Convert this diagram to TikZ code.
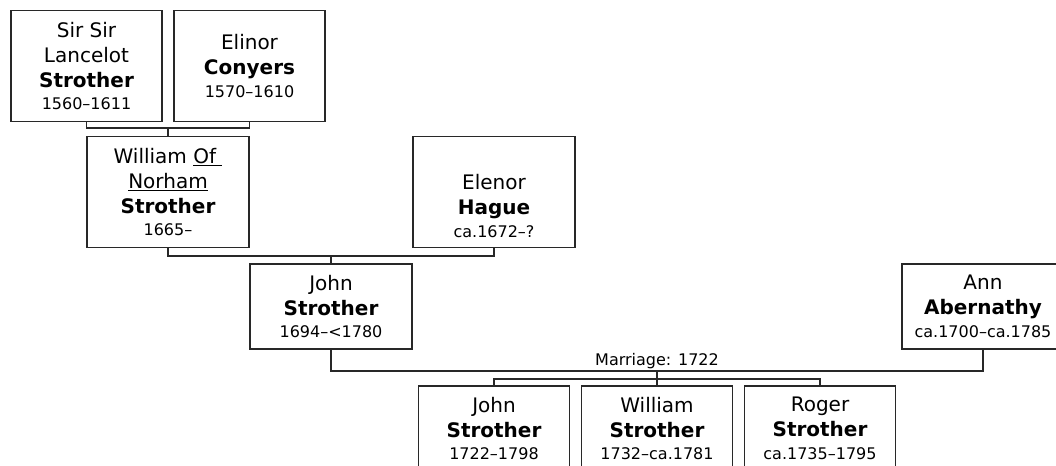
\documentclass[tikz,border=0pt]{standalone}
\usepackage{fontspec}
\setmainfont{DejaVu Sans}
\usepackage{tikz}
\usetikzlibrary{positioning}
\definecolor{lineGray}{RGB}{40,40,40}
\newcommand{\yrs}[1]{\\[-1.75pt]{\fontsize{12}{14}\selectfont #1}}
\tikzset{
  person/.style={draw=lineGray, line width=0.8pt, rectangle, inner sep=0pt, align=center,
    font=\fontsize{15}{18.75}\selectfont, minimum width=121.5pt, minimum height=63.75pt},
  narrow/.style={minimum width=113.25pt},
  tall/.style={minimum height=83pt},
  link/.style={draw=lineGray, line width=0.8pt}
}

\begin{document}
\begin{tikzpicture}[x=0.75pt, y=-0.75pt]
\useasboundingbox (0,0) rectangle (1056,466);
\clip (0,0) rectangle (1056,466);
% grandparents
\node[person, narrow, tall] (lancelot) at (86.5,66) {Sir Sir\\Lancelot\\\textbf{Strother}\yrs{1560–1611}};
\node[person, narrow, tall] (conyers) at (249.5,66) {Elinor\\\textbf{Conyers}\yrs{1570–1610}};
% parents
\node[person, tall] (william) at (168,192) {William \underline{Of\ }\\\underline{Norham}\\\textbf{Strother}\yrs{1665–}};
\node[person, tall] (hague) at (494,192) {\mbox{}\\[14pt]Elenor\\\textbf{Hague}\yrs{ca.1672–?}};
% couple
\node[person] (john) at (331,306.5) {John\\\textbf{Strother}\yrs{1694–<1780}};
\node[person] (ann) at (983,306.5) {Ann\\\textbf{Abernathy}\yrs{ca.1700–ca.1785}};
% children
\node[person, narrow] (kidjohn) at (494,428.5) {John\\\textbf{Strother}\yrs{1722–1798}};
\node[person, narrow] (kidwilliam) at (657,428.5) {William\\\textbf{Strother}\yrs{1732–ca.1781}};
\node[person, narrow] (kidroger) at (820,428.5) {Roger\\\textbf{Strother}\yrs{ca.1735–1795}};

\coordinate (m1) at (168,128);
\coordinate (m2) at (331,256);
\coordinate (m3) at (657,371);
\coordinate (m4) at (657,379);

\draw[link] (lancelot.south) |- (m1) -| (conyers.south);
\draw[link] (m1) -- (william.north);
\draw[link] (william.south) |- (m2) -| (hague.south);
\draw[link] (m2) -- (john.north);
\draw[link] (john.south) |- (m3) -| (ann.south);
\node[above=0pt of m3, inner sep=1.5pt, font=\fontsize{12}{14}\selectfont] (wedlock) {Marriage: 1722};
\draw[link] (m3) -- (m4);
\draw[link] (kidjohn.north) |- (m4) -| (kidroger.north);
\draw[link] (m4) -- (kidwilliam.north);
\end{tikzpicture}
\end{document}
